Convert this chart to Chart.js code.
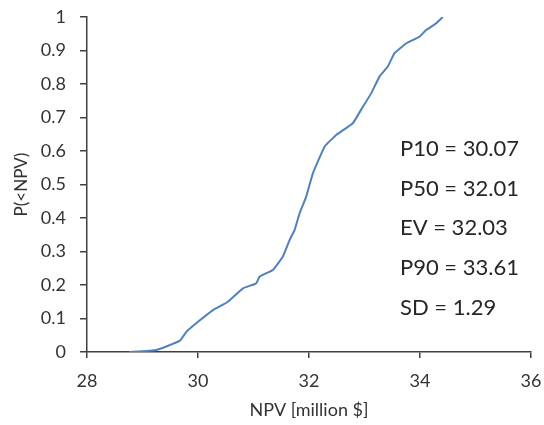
<!DOCTYPE html>
<html><head><meta charset="utf-8">
<script src="https://cdn.jsdelivr.net/npm/chart.js@4/dist/chart.umd.min.js"></script>
<style>html,body{margin:0;padding:0;background:#fff}#wrap{width:544px;height:425px}</style>
</head><body><div id="wrap"><canvas id="c" width="544" height="425"></canvas></div>
<script>
const npv = [28.76,29.25,29.67,29.79,30.0,30.27,30.54,30.81,31.05,31.11,31.35,31.53,31.65,31.74,31.83,31.95,32.07,32.28,32.49,32.79,32.97,33.12,33.27,33.42,33.54,33.75,33.99,34.11,34.29,34.41];
const prob = [0.0,0.006,0.033,0.06,0.09,0.125,0.15,0.19,0.205,0.225,0.245,0.285,0.334,0.364,0.414,0.464,0.533,0.613,0.648,0.683,0.732,0.772,0.822,0.852,0.892,0.921,0.941,0.961,0.981,1.0];
const statLabels = ["P10 = 30.07","P50 = 32.01","EV = 32.03","P90 = 33.61","SD = 1.29"];
const xTicks = [28,30,32,34,36];

const FONT = "Lato, 'Open Sans', sans-serif";
const textPlugin = {
  id:'stats',
  afterDraw(chart){
    const ctx = chart.ctx;
    ctx.save();
    ctx.font = "22px " + FONT;
    ctx.fillStyle = "#262626";
    ctx.textBaseline = "middle";
    ctx.textAlign = "left";
    statLabels.forEach((t,i)=>ctx.fillText(t, 400, 149 + i*39.7));
    ctx.restore();
  }
};
new Chart(document.getElementById('c'), {
  type:'line',
  data:{datasets:[{data:npv.map((x,i)=>({x:x,y:prob[i]})),borderColor:'#4F81BD',borderWidth:2,pointRadius:0,tension:0.1,fill:false}]},
  options:{
    responsive:false,animation:false,
    plugins:{legend:{display:false},tooltip:{enabled:false}},
    layout:{padding:{left:0,right:13,top:17,bottom:0}},
    scales:{
      x:{type:'linear',min:28,max:36,
        afterBuildTicks(s){s.ticks = xTicks.map(v=>({value:v}));},
        afterFit(s){s.height = 73; s.paddingLeft = 0; s.paddingRight = 0;},
        grid:{display:true,drawOnChartArea:false,drawTicks:true,tickLength:6,color:'#404040',lineWidth:1.5},
        border:{display:true,color:'#404040',width:1.5},
        ticks:{color:'#333333',font:{family:FONT,size:18},padding:12,maxRotation:0},
        title:{display:true,text:'NPV [million $]',color:'#333333',font:{family:FONT,size:18},padding:{top:0,bottom:4}}
      },
      y:{min:0,max:1,
        afterFit(s){s.width = 87; s.paddingTop = 0; s.paddingBottom = 0;},
        grid:{display:true,drawOnChartArea:false,drawTicks:true,tickLength:7,color:'#404040',lineWidth:1.5},
        border:{display:true,color:'#404040',width:1.5},
        ticks:{stepSize:0.1,color:'#333333',font:{family:FONT,size:18},padding:14,callback:v=>String(+v.toFixed(1))},
        title:{display:true,text:'P(<NPV)',color:'#333333',font:{family:FONT,size:17},padding:{top:11,bottom:0}}
      }
    }
  },
  plugins:[textPlugin]
});
</script></body></html>
